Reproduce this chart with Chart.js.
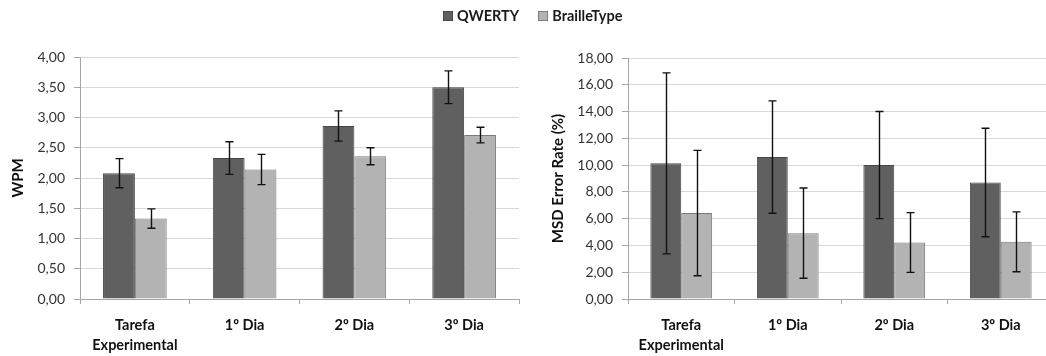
<!DOCTYPE html>
<html>
<head>
<meta charset="utf-8">
<script src="https://cdn.jsdelivr.net/npm/chart.js@4.4.1/dist/chart.umd.min.js"></script>
<style>
  html, body { margin: 0; padding: 0; background: #fff; overflow: hidden; width: 1046px; height: 356px; }
  #wrap { position: relative; width: 1046px; height: 356px; overflow: hidden; }
  #left { position: absolute; left: 0; top: 0; }
  #right { position: absolute; left: 540px; top: 0; }
  #legend { position: absolute; left: 443px; top: 7px; display: flex; align-items: center;
            font: bold 14.5px Lato, "Liberation Sans", sans-serif; color: #1a1a1a; }
  .item { display: flex; align-items: center; margin-right: 19px; }
  .box { width: 10px; height: 10px; box-sizing: border-box; border: 1px solid; margin-right: 4px; }
</style>
</head>
<body>
<div id="wrap">
  <canvas id="left" width="540" height="356"></canvas>
  <canvas id="right" width="540" height="356"></canvas>
  <div id="legend"></div>
</div>
<script>
// Categories and series
const categories = [['Tarefa', 'Experimental'], '1º Dia', '2º Dia', '3º Dia'];
const seriesNames = ['QWERTY', 'BrailleType'];

// Typing speed (words per minute) with standard deviations
const wpmQwerty = [2.08, 2.33, 2.86, 3.50];
const wpmQwertyErr = [0.24, 0.27, 0.25, 0.27];
const wpmBraille = [1.33, 2.14, 2.36, 2.71];
const wpmBrailleErr = [0.16, 0.25, 0.14, 0.13];

// MSD error rate (%) with standard deviations
const msdQwerty = [10.13, 10.60, 10.00, 8.70];
const msdQwertyErr = [6.76, 4.20, 4.00, 4.05];
const msdBraille = [6.42, 4.92, 4.22, 4.27];
const msdBrailleErr = [4.68, 3.37, 2.23, 2.24];

// Axis ranges
const wpmTicks = { min: 0, max: 4, step: 0.5 };
const msdTicks = { min: 0, max: 18, step: 2 };

const fills = ['#606060', '#b3b3b3'];
const borders = ['#474747', '#7a7a7a'];
const FONT = 'Lato, "Liberation Sans", sans-serif';

// Legend
const legend = document.getElementById('legend');
seriesNames.forEach((name, i) => {
  const item = document.createElement('div');
  item.className = 'item';
  const box = document.createElement('div');
  box.className = 'box';
  box.style.background = fills[i];
  box.style.borderColor = borders[i];
  const label = document.createElement('span');
  label.textContent = name;
  item.appendChild(box);
  item.appendChild(label);
  legend.appendChild(item);
});

// Draws the +/- deviation whiskers on every bar
const errorBars = {
  id: 'errorBars',
  afterDatasetsDraw(chart) {
    const ctx = chart.ctx;
    const yScale = chart.scales.y;
    ctx.save();
    ctx.strokeStyle = '#111';
    ctx.lineWidth = 1.4;
    chart.data.datasets.forEach((ds, i) => {
      const meta = chart.getDatasetMeta(i);
      meta.data.forEach((bar, j) => {
        const v = ds.data[j], e = ds.errors[j];
        const x = Math.round(bar.x) + 0.5;
        const yTop = yScale.getPixelForValue(v + e);
        const yBot = yScale.getPixelForValue(v - e);
        const cap = 4;
        ctx.beginPath();
        ctx.moveTo(x, yTop); ctx.lineTo(x, yBot);
        ctx.moveTo(x - cap, yTop); ctx.lineTo(x + cap, yTop);
        ctx.moveTo(x - cap, yBot); ctx.lineTo(x + cap, yBot);
        ctx.stroke();
      });
    });
    ctx.restore();
  }
};

function makeChart(id, series, errs, ticks, title, axisWidth, pad) {
  const datasets = series.map((data, i) => ({
    label: seriesNames[i],
    data: data,
    errors: errs[i],
    backgroundColor: fills[i],
    borderColor: borders[i],
    borderWidth: 1,
    borderSkipped: 'bottom',
    barPercentage: 1,
    categoryPercentage: 0.58
  }));
  return new Chart(document.getElementById(id), {
    type: 'bar',
    data: { labels: categories, datasets: datasets },
    plugins: [errorBars],
    options: {
      responsive: false,
      animation: false,
      layout: { padding: pad },
      plugins: { legend: { display: false }, tooltip: { enabled: false } },
      scales: {
        x: {
          afterFit(s) { s.height = 57; },
          border: { color: '#a6a6a6', width: 1 },
          grid: { display: true, drawOnChartArea: false, tickLength: 5, tickColor: '#a6a6a6', offset: true },
          ticks: {
            color: '#111',
            padding: 11,
            font: { family: FONT, size: 14.5, weight: 'bold', lineHeight: '20px' }
          }
        },
        y: {
          min: ticks.min, max: ticks.max,
          afterFit(s) { s.width = axisWidth; },
          border: { color: '#a6a6a6', width: 1 },
          grid: { color: '#d9d9d9', borderDash: [3, 2], tickLength: 6, tickColor: '#a6a6a6', tickBorderDash: [] },
          ticks: {
            stepSize: ticks.step,
            padding: 9,
            color: '#333',
            font: { family: FONT, size: 14 },
            callback: v => v.toFixed(2).replace('.', ',')
          },
          title: {
            display: true,
            text: title,
            color: '#111',
            padding: { top: 9, bottom: 0 },
            font: { family: FONT, size: 15, weight: 'bold' }
          }
        }
      }
    }
  });
}

makeChart('left', [wpmQwerty, wpmBraille], [wpmQwertyErr, wpmBrailleErr], wpmTicks, 'WPM', 80,
  { top: 57, right: 21, left: 0, bottom: 0 });
makeChart('right', [msdQwerty, msdBraille], [msdQwertyErr, msdBrailleErr], msdTicks, 'MSD Error Rate (%)', 88,
  { top: 58, right: 26, left: 0, bottom: 0 });
</script>
</body>
</html>
